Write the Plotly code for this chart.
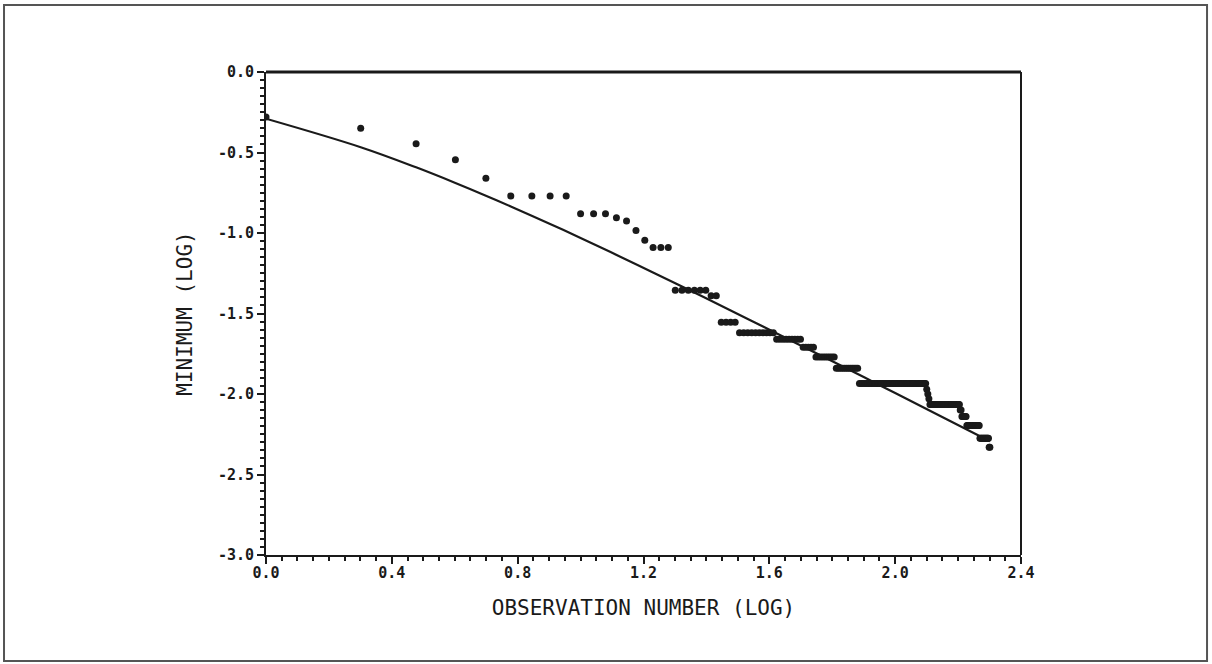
import numpy as np
import plotly.graph_objects as go

# Running minimum (log10) observed, as runs of equal values over observation numbers 1..200
min_values = [-0.28, -0.35, -0.445, -0.545, -0.66, -0.77, -0.88, -0.905, -0.925, -0.985,
              -1.045, -1.09, -1.355, -1.39, -1.555, -1.62, -1.66, -1.71, -1.77, -1.84,
              -1.935, -1.97, -2.00, -2.03, -2.065, -2.10, -2.14, -2.195, -2.275, -2.33]
run_lengths = [1, 1, 1, 1, 1, 4, 3, 1, 1, 1,
               1, 3, 6, 2, 4, 10, 9, 5, 9, 12,
               49, 1, 1, 1, 32, 2, 6, 17, 13, 2]

# Smooth reference curve at selected observation numbers
fit_obs = [1, 2, 3, 4, 5, 6, 8, 10, 15, 20, 30, 40, 60, 80, 100, 150, 200]
fit_values = [-0.29, -0.467, -0.592, -0.689, -0.768, -0.835, -0.944, -1.031, -1.194,
              -1.312, -1.481, -1.603, -1.775, -1.898, -1.994, -2.169, -2.293]

x_tick_vals = [0.0, 0.4, 0.8, 1.2, 1.6, 2.0, 2.4]
x_tick_text = ["0.0", "0.4", "0.8", "1.2", "1.6", "2.0", "2.4"]
y_tick_vals = [0.0, -0.5, -1.0, -1.5, -2.0, -2.5, -3.0]
y_tick_text = ["0.0", "-0.5", "-1.0", "-1.5", "-2.0", "-2.5", "-3.0"]

obs_y = []
for v, c in zip(min_values, run_lengths):
    obs_y += [v] * c
obs_n = list(range(1, len(obs_y) + 1))
obs_x = np.log10(obs_n)
fit_x = np.log10(fit_obs)

INK = "#1a1a1a"
fig = go.Figure()
fig.add_trace(go.Scatter(x=fit_x, y=fit_values, mode="lines",
                         line=dict(color=INK, width=2.2, shape="spline"),
                         showlegend=False, hoverinfo="skip"))
fig.add_trace(go.Scatter(x=obs_x, y=obs_y, mode="markers",
                         marker=dict(color=INK, size=7),
                         showlegend=False))

tickfont = dict(family="DejaVu Sans Mono", size=15, color=INK, weight="bold")
titlefont = dict(family="DejaVu Sans Mono", size=21, color=INK)

fig.update_xaxes(range=[0, 2.4], tickmode="array", tickvals=x_tick_vals, ticktext=x_tick_text,
                 ticks="outside", ticklen=7, tickwidth=2, tickcolor=INK,
                 showline=True, linecolor=INK, linewidth=2, showgrid=False, zeroline=False,
                 minor=dict(ticks="outside", ticklen=4, tickwidth=1.5, tickcolor=INK, dtick=0.05, showgrid=False),
                 tickfont=tickfont, ticklabelstandoff=-4,
                 title=dict(text="OBSERVATION NUMBER (LOG)", font=titlefont, standoff=19))
fig.update_yaxes(range=[-3, 0], tickmode="array", tickvals=y_tick_vals, ticktext=y_tick_text,
                 ticks="outside", ticklen=7, tickwidth=2, tickcolor=INK,
                 showline=True, linecolor=INK, linewidth=2, showgrid=False, zeroline=False,
                 minor=dict(ticks="outside", ticklen=4, tickwidth=1.5, tickcolor=INK, dtick=0.05, showgrid=False),
                 tickfont=tickfont,
                 title=dict(text="MINIMUM (LOG)", font=titlefont, standoff=20))

shapes = [
    dict(type="line", xref="paper", yref="paper", x0=0, x1=1, y0=1, y1=1,
         line=dict(color=INK, width=3)),
    dict(type="line", xref="paper", yref="paper", x0=1, x1=1, y0=0, y1=1,
         line=dict(color=INK, width=2)),
    dict(type="rect", xref="paper", yref="paper", x0=-0.347, x1=1.2464, y0=-0.2195, y1=1.1387,
         line=dict(color="#555555", width=2)),
]

fig.update_layout(width=1212, height=664, paper_bgcolor="white", plot_bgcolor="white",
                  margin=dict(l=266, r=191, t=72, b=109, autoexpand=False),
                  shapes=shapes, showlegend=False,
                  font=dict(family="DejaVu Sans Mono", color=INK))
fig.update_xaxes(automargin=False)
fig.update_yaxes(automargin=False)

fig.write_html("out.html")
